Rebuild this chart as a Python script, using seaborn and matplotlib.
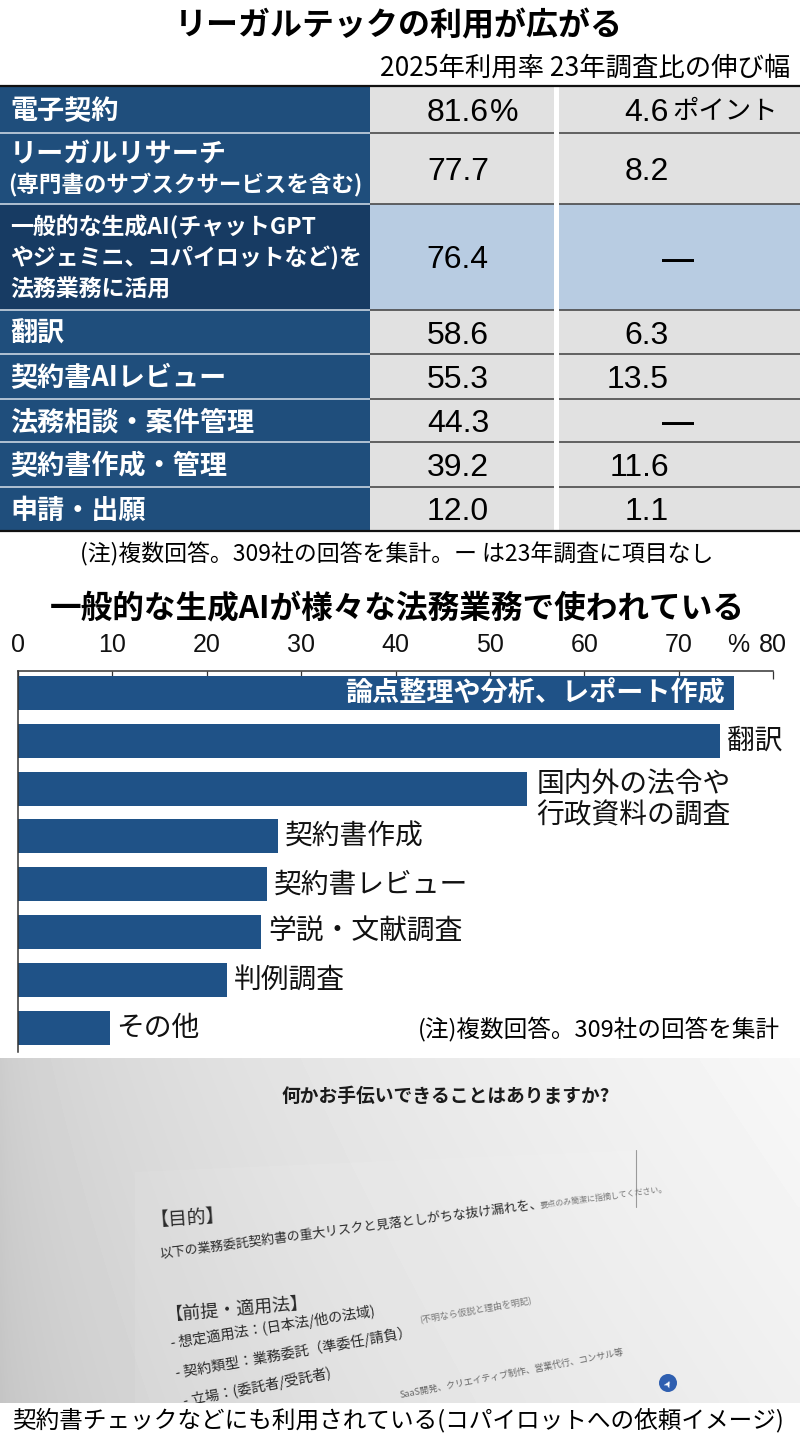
import numpy as np
import pandas as pd
import matplotlib
matplotlib.use("Agg")
import matplotlib.pyplot as plt
import seaborn as sns
from matplotlib.patches import Rectangle, Circle, Polygon

# ---------------- data ----------------
table_labels = [
    "電子契約",
    "リーガルリサーチ\n(専門書のサブスクサービスを含む)",
    "一般的な生成AI(チャットGPT\nやジェミニ、コパイロットなど)を\n法務業務に活用",
    "翻訳",
    "契約書AIレビュー",
    "法務相談・案件管理",
    "契約書作成・管理",
    "申請・出願",
]
rate_2025 = [81.6, 77.7, 76.4, 58.6, 55.3, 44.3, 39.2, 12.0]
growth_vs_23 = [4.6, 8.2, np.nan, 6.3, 13.5, np.nan, 11.6, 1.1]
highlight_row = 2

ai_tasks = [
    "論点整理や分析、レポート作成",
    "翻訳",
    "国内外の法令や\n行政資料の調査",
    "契約書作成",
    "契約書レビュー",
    "学説・文献調査",
    "判例調査",
    "その他",
]
ai_share = [75.9, 74.4, 53.9, 27.5, 26.4, 25.8, 22.1, 9.7]
x_ticks = [0, 10, 20, 30, 40, 50, 60, 70, 80]

title1 = "リーガルテックの利用が広がる"
col_header = "2025年利用率 23年調査比の伸び幅"
note1 = "(注)複数回答。309社の回答を集計。ー は23年調査に項目なし"
title2 = "一般的な生成AIが様々な法務業務で使われている"
note2 = "(注)複数回答。309社の回答を集計"
caption = "契約書チェックなどにも利用されている(コパイロットへの依頼イメージ)"

# ---------------- style ----------------
sns.set_theme(style="white")
JP = ["Noto Sans CJK JP", "DejaVu Sans"]
NUM = ["Liberation Sans", "Noto Sans CJK JP"]
NARROW = ["Liberation Sans Narrow", "Liberation Sans", "DejaVu Sans"]
plt.rcParams["font.family"] = JP

NAVY = "#1f4e7c"
NAVY_DARK = "#173b63"
GRAY = "#e1e1e1"
LIGHT_BLUE = "#b8cce2"
BAR = "#1f5287"

fig = plt.figure(figsize=(8, 14.39), dpi=100)
bg = fig.add_axes([0, 0, 1, 1])
bg.set_xlim(0, 800)
bg.set_ylim(1439, 0)
bg.axis("off")


def put(ax, x, y, s, pt, ha="left", family=JP, weight="normal", color="black", k=0.37, **kw):
    em = pt * 100 / 72
    ax.text(x, y + k * em, s, fontsize=pt, ha=ha, va="baseline", family=family,
            weight=weight, color=color, **kw)


# ---------------- titles ----------------
put(bg, 399, 24, title1, 23, ha="center", weight="bold")
put(bg, 790, 66, col_header, 19, ha="right")

# ---------------- table ----------------
row_edges = [86, 132.5, 204, 310, 354, 399, 442, 487, 531]
for i in range(len(table_labels)):
    y0, y1 = row_edges[i], row_edges[i + 1]
    hl = i == highlight_row
    bg.add_patch(Rectangle((0, y0), 370, y1 - y0, fc=NAVY_DARK if hl else NAVY, ec="none"))
    bg.add_patch(Rectangle((370, y0), 184, y1 - y0, fc=LIGHT_BLUE if hl else GRAY, ec="none"))
    bg.add_patch(Rectangle((559, y0), 241, y1 - y0, fc=LIGHT_BLUE if hl else GRAY, ec="none"))
    yc = (y0 + y1) / 2
    lines = table_labels[i].split("\n")
    if len(lines) == 1:
        put(bg, 10, yc, lines[0], 19.5, weight="bold", color="white")
    elif len(lines) == 2:
        put(bg, 10, yc - 16, lines[0], 19.5, weight="bold", color="white")
        put(bg, 8, yc + 16, lines[1], 16.2, weight="bold", color="white")
    else:
        for j, ln in enumerate(lines):
            put(bg, 10, yc + (j - 1) * 31.5, ln, 16.5, weight="bold", color="white")
    # 2025 rate
    put(bg, 489, yc, f"{rate_2025[i]:.1f}", 23, ha="right", family=NUM, k=0.36)
    if i == 0:
        put(bg, 490, yc, "%", 23, family=NUM, k=0.36)
    # growth
    g = growth_vs_23[i]
    if np.isnan(g):
        put(bg, 678, yc, "—", 23, ha="center", family=NUM, weight="bold", k=0.36)
    else:
        put(bg, 669, yc, f"{g:.1f}", 23, ha="right", family=NUM, k=0.36)
        if i == 0:
            put(bg, 672, yc, "ポイント", 19)

for e in row_edges[1:-1]:
    bg.plot([0, 370], [e, e], color="#c9d5e2", lw=1.2, solid_capstyle="butt")
    bg.plot([370, 554], [e, e], color="#4a4a4a", lw=1.2, solid_capstyle="butt")
    bg.plot([559, 800], [e, e], color="#4a4a4a", lw=1.2, solid_capstyle="butt")
bg.plot([0, 800], [row_edges[0], row_edges[0]], color="#111111", lw=1.6)
bg.plot([0, 800], [row_edges[-1], row_edges[-1]], color="#111111", lw=1.6)

put(bg, 397, 553, note1, 16.5, ha="center")

# ---------------- bar chart ----------------
put(bg, 397, 607, title2, 22.8, ha="center", weight="bold")

ax = fig.add_axes([18 / 800, 1 - 1052 / 1439, 755 / 800, 381 / 1439])
ax.set_facecolor("none")
df = pd.DataFrame({"task": ai_tasks, "share": ai_share})
sns.barplot(data=df, x="share", y="task", orient="h", color=BAR, width=0.71,
            linewidth=0, saturation=1, ax=ax)
ax.set_xlim(0, 80)
ax.set_ylim(7.51, -0.46)
ax.set_xlabel("")
ax.set_ylabel("")
ax.set_yticks([])
ax.xaxis.set_ticks_position("top")
ax.set_xticks(x_ticks, [str(t) for t in x_ticks])
ax.tick_params(axis="x", direction="in", length=6, width=0.9, color="#333333",
               pad=10, labelsize=18, top=True, bottom=False, labeltop=True,
               labelbottom=False, labelcolor="#111111")
for lbl in ax.get_xticklabels():
    lbl.set_family(NARROW)
for side in ["right", "bottom"]:
    ax.spines[side].set_visible(False)
for side in ["top", "left"]:
    ax.spines[side].set_color("#333333")
    ax.spines[side].set_linewidth(1.1)
ax.annotate("%", xy=(76.3, 1), xycoords=("data", "axes fraction"), xytext=(0, 10),
            textcoords="offset points", ha="center", va="bottom", fontsize=18,
            family=NARROW, color="#111111")

for i, (t, v) in enumerate(zip(ai_tasks, ai_share)):
    if i == 0:
        ax.annotate(t, (v, i), xytext=(-7, 0), textcoords="offset points", ha="right",
                    va="center", color="white", weight="bold", fontsize=19.5)
    elif i == 2:
        ax.annotate(t, (v, i), xytext=(7, -8), textcoords="offset points", ha="left",
                    va="center", color="#111111", fontsize=20, linespacing=1.05)
    else:
        ax.annotate(t, (v, i), xytext=(5, 0), textcoords="offset points", ha="left",
                    va="center", color="#111111", fontsize=20)

put(bg, 780, 1028, note2, 17, ha="right")

# ---------------- photo imitation ----------------
ph = fig.add_axes([0, 1 - 1403 / 1439, 1, 345 / 1439])
xx = np.linspace(0, 1, 240)
yy = np.linspace(0, 1, 100)
X, Y = np.meshgrid(xx, yy)
G = 0.77 + 0.17 * X ** 0.6 + 0.03 * (1 - Y)
ph.imshow(G, extent=(0, 800, 1403, 1058), cmap="gray", vmin=0, vmax=1,
          aspect="auto", interpolation="bicubic")
ph.add_patch(Polygon([(135, 1172), (640, 1150), (640, 1403), (135, 1403)],
                     closed=True, fc="white", ec="none", alpha=0.08))
ph.plot([636, 636], [1150, 1207], color="#9a9a9a", lw=0.8)
ph.set_xlim(0, 800)
ph.set_ylim(1403, 1058)
ph.axis("off")

photo_texts = [
    ("何かお手伝いできることはありますか?", 282, 1102, 13.5, 0, "#1a1a1a", "bold"),
    ("【目的】", 150, 1226, 13.5, 4, "#2a2a2a", "normal"),
    ("以下の業務委託契約書の重大リスクと見落としがちな抜け漏れを、", 160, 1258, 9.3, 7.5, "#2a2a2a", "normal"),
    ("要点のみ簡潔に指摘してください。", 540, 1208, 5.8, 7.5, "#777777", "normal"),
    ("【前提・適用法】", 166, 1320, 13, 5, "#2a2a2a", "normal"),
    ("- 想定適用法：(日本法/他の法域)", 172, 1348, 10.2, 9, "#2a2a2a", "normal"),
    ("(不明なら仮説と理由を明記)", 420, 1322, 6.5, 10, "#777777", "normal"),
    ("- 契約類型：業務委託（準委任/請負）", 176, 1378, 10.2, 10, "#2a2a2a", "normal"),
    ("- 立場：(委託者/受託者)", 184, 1406, 10.2, 11, "#2a2a2a", "normal"),
    ("SaaS開発、クリエイティブ制作、営業代行、コンサル等", 400, 1398, 6.5, 11, "#666666", "normal"),
]
for s, x, y, pt, rot, c, w in photo_texts:
    ph.text(x, y, s, fontsize=pt, rotation=rot, rotation_mode="anchor", ha="left",
            va="baseline", color=c, weight=w, clip_on=True)
ph.add_patch(Circle((668, 1383), 9, fc="#2f5fb0", ec="none"))
ph.text(668, 1383, "➤", fontsize=7, color="white", ha="center", va="center",
        family=["DejaVu Sans"], rotation=60)

put(bg, 398, 1419, caption, 17, ha="center")

fig.savefig("out.png", dpi=100)
